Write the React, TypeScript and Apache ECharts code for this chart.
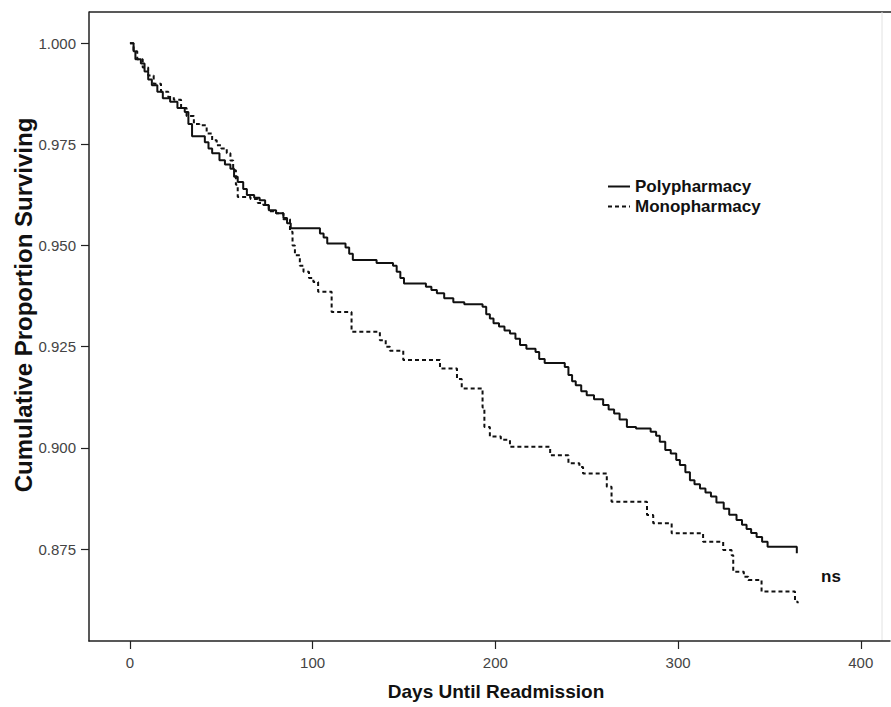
import React, { useEffect, useRef } from "react";
import * as echarts from "echarts";

const polyDays = [0, 2, 3, 6, 8, 10, 12, 15, 18, 22, 26, 30, 32, 34, 41, 43, 45, 49, 52, 55, 57, 59, 62, 64, 68, 71, 74, 76, 80, 84, 86, 88, 104, 106, 108, 118, 120, 122, 135, 144, 146, 148, 150, 162, 165, 168, 172, 177, 183, 193, 195, 197, 199, 202, 205, 208, 211, 213.5, 217, 222, 224, 227, 238, 240, 242, 244, 247, 250, 254, 259, 262, 265, 268, 272, 277, 285, 288, 290, 293, 296, 299, 301, 304, 306.5, 309, 312, 315, 318, 321, 325, 328, 332, 335, 337.5, 340, 343, 346, 349, 365];
const polySurv = [1.0, 0.998, 0.996, 0.995, 0.993, 0.991, 0.9896, 0.988, 0.9864, 0.9855, 0.984, 0.983, 0.98, 0.977, 0.9755, 0.974, 0.9728, 0.9711, 0.97, 0.969, 0.967, 0.9657, 0.964, 0.9625, 0.9618, 0.9612, 0.96, 0.9587, 0.958, 0.9568, 0.9555, 0.9543, 0.953, 0.952, 0.9505, 0.9495, 0.948, 0.9464, 0.9457, 0.945, 0.9435, 0.942, 0.9406, 0.9398, 0.939, 0.9382, 0.937, 0.936, 0.9355, 0.9349, 0.933, 0.932, 0.9308, 0.93, 0.929, 0.9283, 0.927, 0.9254, 0.9245, 0.9237, 0.922, 0.921, 0.92, 0.918, 0.9165, 0.9155, 0.914, 0.913, 0.912, 0.9106, 0.9095, 0.9085, 0.907, 0.9052, 0.9048, 0.904, 0.903, 0.9015, 0.8995, 0.8986, 0.897, 0.8958, 0.894, 0.892, 0.891, 0.89, 0.889, 0.888, 0.8865, 0.885, 0.8835, 0.8822, 0.881, 0.88, 0.879, 0.878, 0.8768, 0.8756, 0.874];

const monoDays = [0, 2, 4, 7, 10, 13, 17, 21, 24, 28, 31, 35, 38, 42, 45, 47.5, 50, 53, 55, 56.5, 58, 59, 66, 70, 73, 76, 80, 84, 87.6, 89, 90.3, 93, 95, 98, 100.4, 103, 110.4, 121.3, 136.8, 140, 142.3, 149.6, 169.7, 179, 181.6, 193, 194, 197, 203, 208, 230, 240, 246, 248, 261, 263.6, 283, 286.4, 296.5, 313.7, 324.7, 329.3, 330.2, 336, 338.4, 345.7, 364, 365.5];
const monoSurv = [1.0, 0.998, 0.996, 0.994, 0.992, 0.99, 0.988, 0.9867, 0.986, 0.984, 0.982, 0.98, 0.9797, 0.9777, 0.976, 0.9748, 0.974, 0.9728, 0.971, 0.9686, 0.965, 0.962, 0.9615, 0.9605, 0.96, 0.9585, 0.958, 0.9565, 0.9534, 0.95, 0.9476, 0.945, 0.9435, 0.942, 0.941, 0.9386, 0.9336, 0.9287, 0.9266, 0.925, 0.924, 0.9217, 0.9196, 0.917, 0.9147, 0.91, 0.9052, 0.9028, 0.902, 0.9003, 0.8982, 0.8962, 0.8953, 0.8937, 0.8904, 0.8867, 0.8834, 0.8814, 0.8789, 0.8768, 0.8748, 0.8735, 0.8694, 0.8682, 0.8674, 0.8645, 0.862, 0.8616];

const xTicks = [0, 100, 200, 300, 400];
const yTicks = [0.875, 0.9, 0.925, 0.95, 0.975, 1.0];
const seriesNames = ["Polypharmacy", "Monopharmacy"];
const xTitle = "Days Until Readmission";
const yTitle = "Cumulative Proportion Surviving";
const note = "ns";

const FONT = "'Liberation Sans', Arial, sans-serif";

export default function App() {
  const ref = useRef<HTMLDivElement>(null);
  useEffect(() => {
    if (!ref.current) return;
    const chart = echarts.init(ref.current, undefined, { renderer: "svg" });
    const poly = polyDays.map((d, i) => [d, polySurv[i]]);
    const mono = monoDays.map((d, i) => [d, monoSurv[i]]);
    chart.setOption({
      animation: false,
      backgroundColor: "#ffffff",
      grid: { left: 89, top: 12, right: 1, bottom: 66, containLabel: false },
      xAxis: {
        type: "value",
        min: -22.4,
        max: 416,
        splitLine: { show: false },
        axisLine: { show: true, onZero: false, lineStyle: { color: "#222", width: 1.5 } },
        axisTick: { show: true, customValues: xTicks, length: 8, lineStyle: { color: "#222", width: 1.2 } },
        axisLabel: { customValues: xTicks, color: "#444", fontSize: 15, fontFamily: FONT, margin: 14 },
      },
      yAxis: {
        type: "value",
        min: 0.8523,
        max: 1.0077,
        splitLine: { show: false },
        axisLine: { show: true, onZero: false, lineStyle: { color: "#222", width: 1.5 } },
        axisTick: { show: true, customValues: yTicks, length: 8, lineStyle: { color: "#222", width: 1.2 } },
        axisLabel: {
          customValues: yTicks,
          color: "#444",
          fontSize: 15,
          fontFamily: FONT,
          margin: 13,
          formatter: (v: number) => v.toFixed(3),
        },
      },
      legend: {
        orient: "vertical",
        left: 607,
        top: 178,
        padding: 0,
        itemWidth: 22,
        itemHeight: 10,
        itemGap: 3,
        itemStyle: { opacity: 0 },
        textStyle: { fontSize: 17, fontWeight: "bold", color: "#111", fontFamily: FONT },
        data: seriesNames,
      },
      graphic: [
        { type: "line", shape: { x1: 89, y1: 12, x2: 891, y2: 12 }, style: { stroke: "#222", lineWidth: 1.5 } },
        { type: "line", shape: { x1: 882, y1: 12, x2: 882, y2: 641 }, style: { stroke: "#e2e2e2", lineWidth: 1 } },
        { type: "text", left: 821, top: 568, style: { text: note, fontSize: 17, fontWeight: "bold", fill: "#111", fontFamily: FONT } },
        {
          type: "text",
          x: 496,
          y: 691,
          style: { text: xTitle, fontSize: 19, fontWeight: "bold", fill: "#111", fontFamily: FONT, textAlign: "center", textVerticalAlign: "middle" },
        },
        {
          type: "text",
          x: 23,
          y: 305,
          rotation: Math.PI / 2,
          style: { text: yTitle, fontSize: 24, fontWeight: "bold", fill: "#111", fontFamily: FONT, textAlign: "center", textVerticalAlign: "middle" },
        },
      ],
      series: [
        {
          name: seriesNames[0],
          type: "line",
          step: "end",
          data: poly,
          showSymbol: false,
          symbol: "none",
          lineStyle: { color: "#111", width: 2, type: "solid" },
          itemStyle: { color: "#111" },
        },
        {
          name: seriesNames[1],
          type: "line",
          step: "end",
          data: mono,
          showSymbol: false,
          symbol: "none",
          lineStyle: { color: "#111", width: 2, type: [4, 3] },
          itemStyle: { color: "#111" },
        },
      ],
    });
    return () => chart.dispose();
  }, []);
  return <div ref={ref} style={{ position: "absolute", left: 0, top: 0, width: 891, height: 707 }} />;
}
